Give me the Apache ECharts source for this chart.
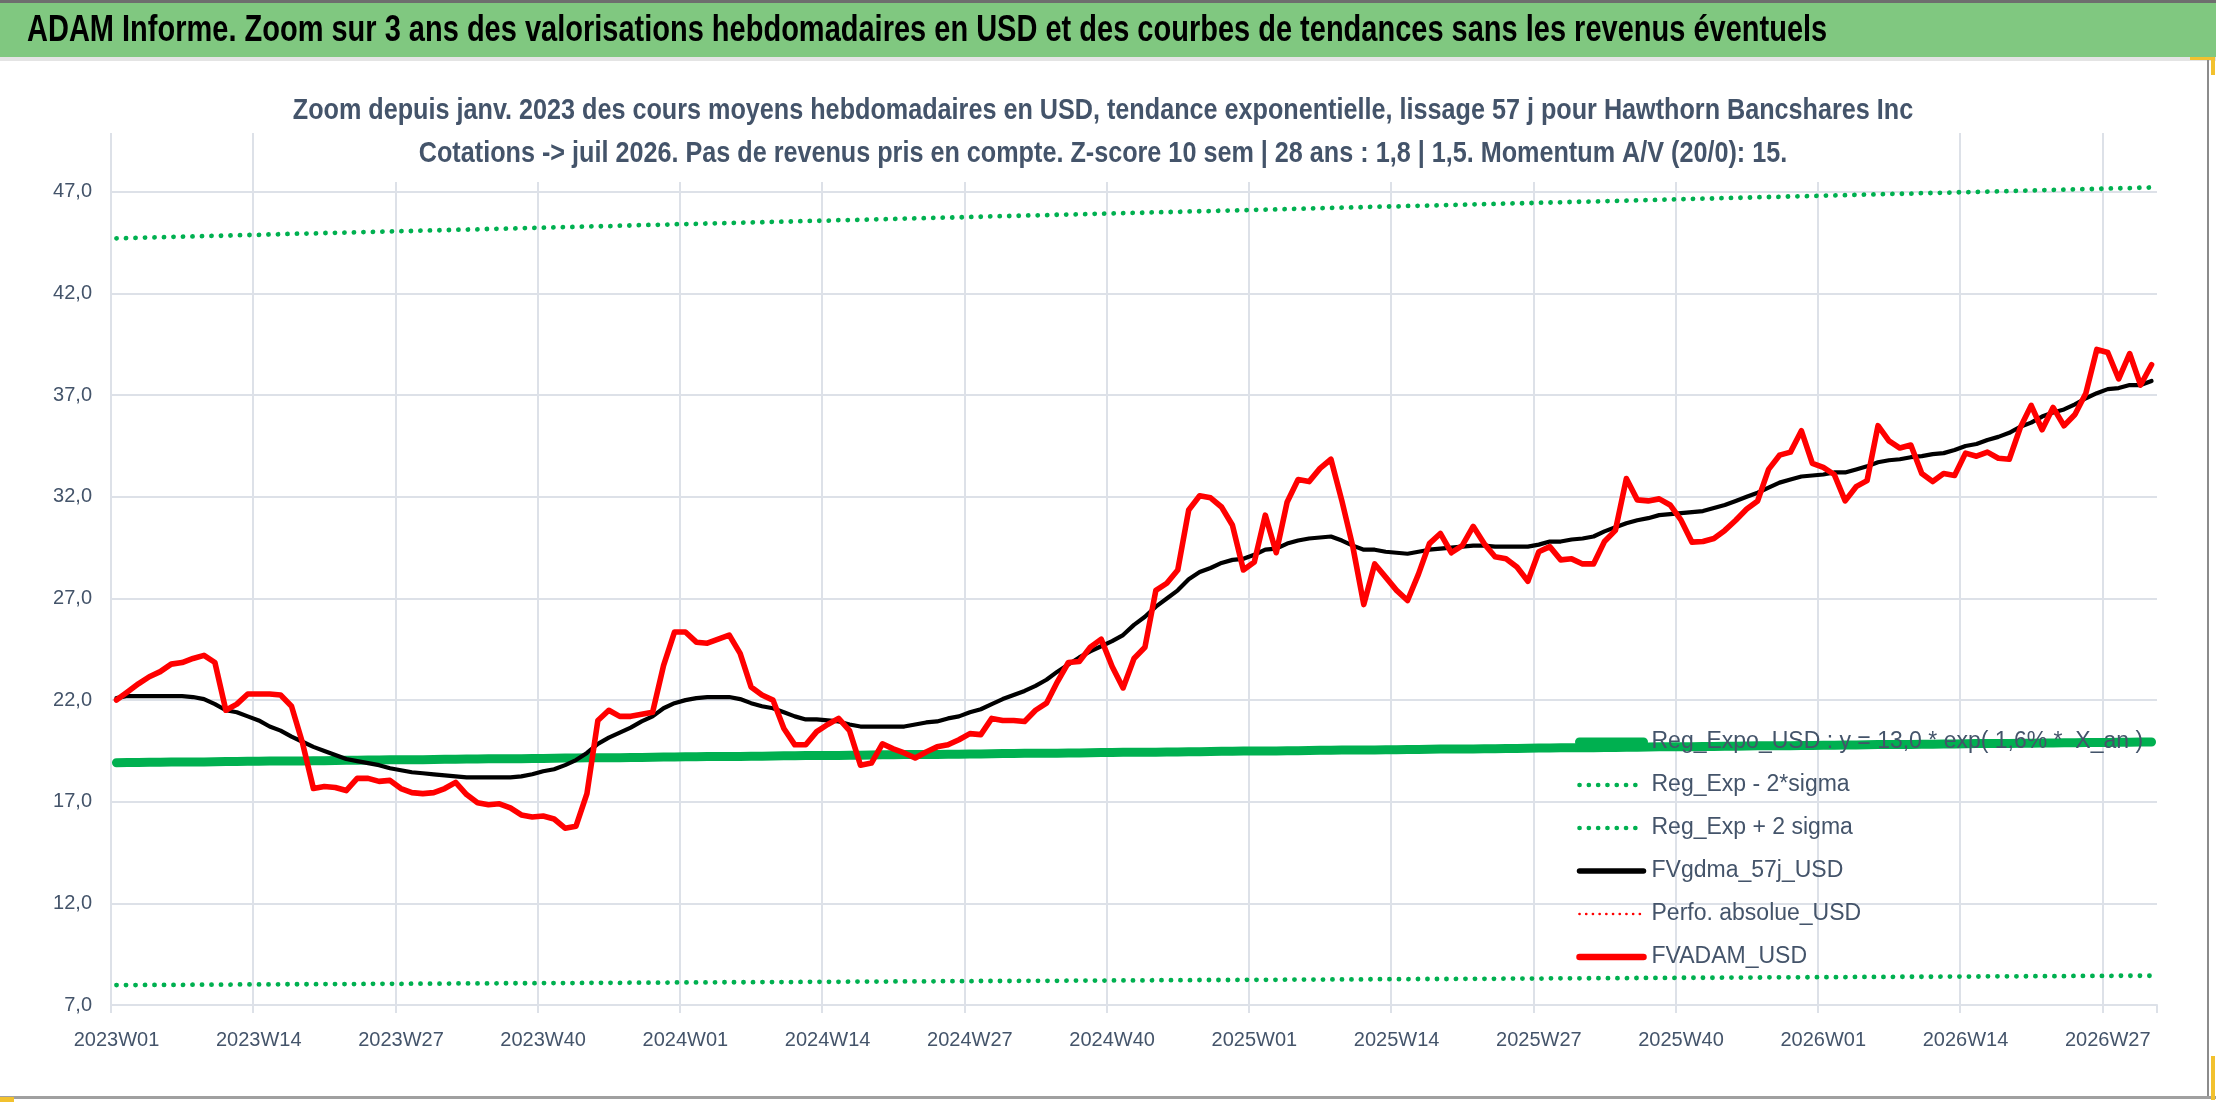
<!DOCTYPE html>
<html>
<head>
<meta charset="utf-8">
<script src="https://cdn.jsdelivr.net/npm/echarts@6/dist/echarts.min.js"></script>
<style>
html,body{margin:0;padding:0;background:#fff;}
#c{width:2216px;height:1102px;}
</style>
</head>
<body>
<div id="c"></div>
<script>
// ---- Data ----
const weekYears = [2023, 2024, 2025, 2026];
const weekCounts = [52, 52, 52, 31];
const categories = [];
weekYears.forEach(function (y, k) {
  for (let w = 1; w <= weekCounts[k]; w++) categories.push(y + 'W' + (w < 10 ? '0' + w : w));
});

const yTicks = [7, 12, 17, 22, 27, 32, 37, 42, 47];

const regExpo = [
18.92,18.93,18.93,18.94,18.94,18.95,18.95,18.96,18.96,18.97,
18.98,18.98,18.99,18.99,19.00,19.00,19.01,19.01,19.02,19.02,
19.03,19.04,19.04,19.05,19.05,19.06,19.06,19.07,19.07,19.08,
19.09,19.09,19.10,19.10,19.11,19.11,19.12,19.12,19.13,19.13,
19.14,19.15,19.15,19.16,19.16,19.17,19.17,19.18,19.18,19.19,
19.20,19.20,19.21,19.21,19.22,19.22,19.23,19.23,19.24,19.24,
19.25,19.26,19.26,19.27,19.27,19.28,19.28,19.29,19.29,19.30,
19.31,19.31,19.32,19.32,19.33,19.33,19.34,19.34,19.35,19.35,
19.36,19.37,19.37,19.38,19.38,19.39,19.39,19.40,19.40,19.41,
19.42,19.42,19.43,19.43,19.44,19.44,19.45,19.45,19.46,19.46,
19.47,19.48,19.48,19.49,19.49,19.50,19.50,19.51,19.51,19.52,
19.53,19.53,19.54,19.54,19.55,19.55,19.56,19.56,19.57,19.57,
19.58,19.59,19.59,19.60,19.60,19.61,19.61,19.62,19.62,19.63,
19.64,19.64,19.65,19.65,19.66,19.66,19.67,19.67,19.68,19.68,
19.69,19.70,19.70,19.71,19.71,19.72,19.72,19.73,19.73,19.74,
19.75,19.75,19.76,19.76,19.77,19.77,19.78,19.78,19.79,19.79,
19.80,19.81,19.81,19.82,19.82,19.83,19.83,19.84,19.84,19.85,
19.86,19.86,19.87,19.87,19.88,19.88,19.89,19.89,19.90,19.90,
19.91,19.92,19.92,19.93,19.93,19.94,19.94
];

const regMinus2Sigma = [
7.98,7.98,7.98,7.99,7.99,7.99,7.99,8.00,8.00,8.00,
8.00,8.01,8.01,8.01,8.01,8.02,8.02,8.02,8.02,8.03,
8.03,8.03,8.03,8.04,8.04,8.04,8.04,8.05,8.05,8.05,
8.05,8.06,8.06,8.06,8.06,8.07,8.07,8.07,8.07,8.08,
8.08,8.08,8.08,8.09,8.09,8.09,8.09,8.10,8.10,8.10,
8.10,8.11,8.11,8.11,8.11,8.12,8.12,8.12,8.12,8.13,
8.13,8.13,8.13,8.14,8.14,8.14,8.14,8.15,8.15,8.15,
8.15,8.16,8.16,8.16,8.16,8.17,8.17,8.17,8.17,8.18,
8.18,8.18,8.18,8.19,8.19,8.19,8.19,8.20,8.20,8.20,
8.20,8.21,8.21,8.21,8.21,8.22,8.22,8.22,8.22,8.23,
8.23,8.23,8.23,8.24,8.24,8.24,8.24,8.25,8.25,8.25,
8.25,8.26,8.26,8.26,8.26,8.27,8.27,8.27,8.27,8.28,
8.28,8.28,8.28,8.29,8.29,8.29,8.29,8.30,8.30,8.30,
8.30,8.31,8.31,8.31,8.31,8.32,8.32,8.32,8.32,8.33,
8.33,8.33,8.33,8.34,8.34,8.34,8.34,8.35,8.35,8.35,
8.35,8.36,8.36,8.36,8.36,8.37,8.37,8.37,8.37,8.38,
8.38,8.38,8.38,8.39,8.39,8.39,8.39,8.40,8.40,8.40,
8.40,8.41,8.41,8.41,8.41,8.42,8.42,8.42,8.42,8.43,
8.43,8.43,8.43,8.44,8.44,8.44,8.44
];

const regPlus2Sigma = [
44.72,44.73,44.75,44.76,44.77,44.79,44.80,44.81,44.83,44.84,
44.85,44.87,44.88,44.89,44.91,44.92,44.94,44.95,44.96,44.98,
44.99,45.00,45.02,45.03,45.04,45.06,45.07,45.08,45.10,45.11,
45.12,45.14,45.15,45.16,45.18,45.19,45.20,45.22,45.23,45.24,
45.26,45.27,45.28,45.30,45.31,45.32,45.34,45.35,45.37,45.38,
45.39,45.41,45.42,45.43,45.45,45.46,45.47,45.49,45.50,45.51,
45.53,45.54,45.55,45.57,45.58,45.59,45.61,45.62,45.63,45.65,
45.66,45.67,45.69,45.70,45.71,45.73,45.74,45.75,45.77,45.78,
45.80,45.81,45.82,45.84,45.85,45.86,45.88,45.89,45.90,45.92,
45.93,45.94,45.96,45.97,45.98,46.00,46.01,46.02,46.04,46.05,
46.06,46.08,46.09,46.10,46.12,46.13,46.14,46.16,46.17,46.18,
46.20,46.21,46.23,46.24,46.25,46.27,46.28,46.29,46.31,46.32,
46.33,46.35,46.36,46.37,46.39,46.40,46.41,46.43,46.44,46.45,
46.47,46.48,46.49,46.51,46.52,46.53,46.55,46.56,46.57,46.59,
46.60,46.61,46.63,46.64,46.66,46.67,46.68,46.70,46.71,46.72,
46.74,46.75,46.76,46.78,46.79,46.80,46.82,46.83,46.84,46.86,
46.87,46.88,46.90,46.91,46.92,46.94,46.95,46.96,46.98,46.99,
47.00,47.02,47.03,47.04,47.06,47.07,47.09,47.10,47.11,47.13,
47.14,47.15,47.17,47.18,47.19,47.21,47.22
];

const fvgdma57j = [
22.1,22.2,22.2,22.2,22.2,22.2,22.2,22.15,22.05,21.8,
21.5,21.4,21.2,21.0,20.7,20.5,20.2,19.95,19.7,19.5,
19.3,19.1,19.0,18.9,18.8,18.65,18.55,18.45,18.4,18.35,
18.3,18.25,18.2,18.2,18.2,18.2,18.2,18.25,18.35,18.5,
18.6,18.8,19.05,19.4,19.85,20.15,20.4,20.65,20.95,21.2,
21.6,21.85,22.0,22.1,22.15,22.15,22.15,22.05,21.85,21.7,
21.6,21.4,21.2,21.05,21.05,21.0,20.95,20.8,20.7,20.7,
20.7,20.7,20.7,20.8,20.9,20.95,21.1,21.2,21.4,21.55,
21.8,22.05,22.25,22.45,22.7,23.0,23.4,23.75,24.1,24.4,
24.65,24.9,25.2,25.7,26.1,26.6,27.0,27.4,27.95,28.3,
28.5,28.75,28.9,28.95,29.15,29.4,29.45,29.7,29.85,29.95,
30.0,30.05,29.85,29.6,29.4,29.4,29.3,29.25,29.2,29.3,
29.4,29.45,29.5,29.55,29.6,29.6,29.55,29.55,29.55,29.55,
29.65,29.8,29.8,29.9,29.95,30.05,30.3,30.5,30.7,30.85,
30.95,31.1,31.15,31.2,31.25,31.3,31.45,31.6,31.8,32.0,
32.2,32.45,32.7,32.85,33.0,33.05,33.1,33.2,33.2,33.35,
33.5,33.7,33.8,33.85,33.95,34.0,34.1,34.15,34.3,34.5,
34.6,34.8,34.95,35.15,35.45,35.65,35.95,36.15,36.3,36.55,
36.85,37.1,37.3,37.35,37.5,37.5,37.7
];

const fvadam = [
22.0,22.4,22.8,23.15,23.4,23.77,23.85,24.05,24.2,23.85,
21.5,21.8,22.3,22.3,22.3,22.25,21.7,19.9,17.65,17.75,
17.7,17.55,18.15,18.15,18.0,18.05,17.65,17.45,17.4,17.45,
17.65,17.95,17.35,16.95,16.85,16.9,16.7,16.35,16.25,16.3,
16.15,15.7,15.8,17.4,21.0,21.5,21.2,21.2,21.3,21.4,
23.7,25.35,25.35,24.85,24.8,25.0,25.2,24.3,22.65,22.25,
22.0,20.6,19.8,19.8,20.45,20.8,21.1,20.5,18.8,18.9,
19.85,19.6,19.4,19.15,19.45,19.7,19.8,20.05,20.35,20.3,
21.1,21.0,21.0,20.95,21.5,21.85,22.9,23.85,23.9,24.6,
25.0,23.65,22.6,24.05,24.6,27.4,27.75,28.4,31.35,32.05,
31.95,31.5,30.6,28.4,28.8,31.1,29.25,31.75,32.85,32.75,
33.4,33.85,31.8,29.55,26.7,28.7,28.05,27.4,26.9,28.2,
29.7,30.2,29.25,29.6,30.55,29.7,29.05,28.95,28.55,27.85,
29.3,29.55,28.9,28.95,28.7,28.7,29.8,30.35,32.9,31.85,
31.8,31.9,31.6,30.85,29.77,29.8,29.95,30.35,30.85,31.4,
31.8,33.35,34.05,34.2,35.25,33.65,33.45,33.1,31.8,32.5,
32.8,35.5,34.75,34.4,34.55,33.15,32.75,33.15,33.05,34.15,
34.0,34.2,33.9,33.85,35.4,36.5,35.3,36.4,35.5,36.05,
37.1,39.25,39.1,37.8,39.05,37.5,38.5
];

// Perfo. absolue_USD: no visible values in this zoom window
const perfoAbsolue = categories.map(function () { return null; });

const seriesNames = [
  'Reg_Expo_USD : y = 13,0 * exp( 1,6% *  X_an )',
  'Reg_Exp - 2*sigma',
  'Reg_Exp + 2 sigma',
  'FVgdma_57j_USD',
  'Perfo. absolue_USD',
  'FVADAM_USD'
];

const mainTitle = 'ADAM Informe. Zoom sur 3 ans des valorisations hebdomadaires en USD et des courbes de tendances sans les revenus éventuels';
const subTitleLines = [
  'Zoom depuis janv. 2023 des cours moyens hebdomadaires en USD, tendance exponentielle, lissage 57 j pour Hawthorn Bancshares Inc',
  'Cotations -> juil 2026. Pas de revenus pris en compte. Z-score 10 sem | 28 ans : 1,8 | 1,5. Momentum A/V (20/0): 15.'
];

// ---- Styles ----
const FONT = "'Liberation Sans', Arial, sans-serif";
const GRID_C = '#dde1e8';
const TXT_C = '#44546a';
const GREEN = '#00b050';
const ySplitColors = yTicks.map(function () { return GRID_C; }).concat(['rgba(0,0,0,0)']);
const xSplitColors = [];
for (let k = 0; k < 15; k++) xSplitColors.push(GRID_C);
xSplitColors.push('rgba(0,0,0,0)');

const lineStyles = [
  { color: GREEN, width: 9, cap: 'round', join: 'round' },
  { color: GREEN, width: 4.8, type: [0.1, 9.4], cap: 'round', join: 'round' },
  { color: GREEN, width: 4.8, type: [0.1, 9.4], cap: 'round', join: 'round' },
  { color: '#000000', width: 4.2, cap: 'round', join: 'round' },
  { color: '#ff0000', width: 2.6, type: [0.1, 6.6], cap: 'round', join: 'round' },
  { color: '#ff0000', width: 5.6, cap: 'round', join: 'round' }
];
const legendLineStyles = [
  { color: GREEN, width: 9, cap: 'round', type: 'solid' },
  { color: GREEN, width: 4.6, type: [0.1, 9.2], cap: 'round' },
  { color: GREEN, width: 4.6, type: [0.1, 9.2], cap: 'round' },
  { color: '#000000', width: 5.5, cap: 'round', type: 'solid' },
  { color: '#ff0000', width: 2.6, type: [0.1, 6.6], cap: 'round' },
  { color: '#ff0000', width: 6.5, cap: 'round', type: 'solid' }
];
const seriesData = [regExpo, regMinus2Sigma, regPlus2Sigma, fvgdma57j, perfoAbsolue, fvadam];
const seriesZ = [2, 2, 2, 3, 3, 4];

const chart = echarts.init(document.getElementById('c'), null, { renderer: 'canvas' });
chart.setOption({
  animation: false,
  backgroundColor: '#ffffff',
  graphic: [
    { type: 'rect', z: 0, shape: { x: 0, y: 0, width: 2216, height: 3 }, style: { fill: '#6e6e6e' } },
    { type: 'rect', z: 0, shape: { x: 0, y: 3, width: 2216, height: 54 }, style: { fill: '#80c880' } },
    { type: 'rect', z: 0, shape: { x: 0, y: 57, width: 2216, height: 4 }, style: { fill: '#e4e4e4' } },
    { type: 'rect', z: 0, shape: { x: 2207, y: 57, width: 2, height: 1042 }, style: { fill: '#8c8c8c' } },
    { type: 'rect', z: 0, shape: { x: 0, y: 1096, width: 2216, height: 3 }, style: { fill: '#a0a0a0' } },
    { type: 'rect', z: 0, shape: { x: 2190, y: 57, width: 24, height: 3 }, style: { fill: '#f2c12e' } },
    { type: 'rect', z: 0, shape: { x: 2211, y: 57, width: 4, height: 18 }, style: { fill: '#f2c12e' } },
    { type: 'rect', z: 0, shape: { x: 2211, y: 1056, width: 4, height: 44 }, style: { fill: '#f2c12e' } },
    { type: 'rect', z: 0, shape: { x: 0, y: 1097, width: 14, height: 5 }, style: { fill: '#f2c12e' } },
    // main title in the green band
    {
      type: 'text', z: 10, x: 27, y: 31, scaleY: 1.26,
      style: { text: mainTitle, fill: '#000000', font: 'bold 29px ' + FONT, textAlign: 'left', textVerticalAlign: 'middle', verticalAlign: 'middle' }
    },
    // white box behind the subtitle (hides gridlines like the original)
    { type: 'rect', z: 9, shape: { x: 275, y: 84, width: 1656, height: 98 }, style: { fill: '#ffffff' } },
    {
      type: 'text', z: 10, x: 1103, y: 111, scaleY: 1.2,
      style: { text: subTitleLines[0], fill: TXT_C, font: 'bold 25.2px ' + FONT, textAlign: 'center', textVerticalAlign: 'middle', verticalAlign: 'middle' }
    },
    {
      type: 'text', z: 10, x: 1103, y: 154, scaleY: 1.2,
      style: { text: subTitleLines[1], fill: TXT_C, font: 'bold 25.2px ' + FONT, textAlign: 'center', textVerticalAlign: 'middle', verticalAlign: 'middle' }
    }
  ],
  legend: {
    orient: 'vertical',
    left: 1575, top: 727,
    padding: 0,
    itemWidth: 64, itemHeight: 14, itemGap: 13,
    selectedMode: false,
    data: seriesNames.map(function (n, i) { return { name: n, lineStyle: legendLineStyles[i] }; }),
    itemStyle: { opacity: 0 },
    textStyle: { fontFamily: FONT, fontSize: 23, color: TXT_C, lineHeight: 30, padding: [0, 0, 0, 3] }
  },
  grid: { left: 111, right: 59, top: 133, bottom: 97, containLabel: false },
  xAxis: {
    type: 'category',
    data: categories,
    boundaryGap: true,
    axisLine: { show: true, lineStyle: { color: GRID_C, width: 2 } },
    axisTick: { show: true, interval: 12, length: 8, lineStyle: { color: GRID_C, width: 2 } },
    axisLabel: { interval: 12, margin: 25, fontFamily: FONT, fontSize: 20, color: TXT_C },
    splitLine: { show: true, interval: 12, lineStyle: { color: xSplitColors, width: 2 } }
  },
  yAxis: {
    type: 'value',
    min: 7, max: 49.9, interval: 5,
    axisLine: { show: false },
    axisTick: { show: false },
    axisLabel: {
      showMaxLabel: false, margin: 19, fontFamily: FONT, fontSize: 20, color: TXT_C,
      formatter: function (v) { return yTicks.indexOf(v) >= 0 ? v.toFixed(1).replace('.', ',') : ''; }
    },
    splitLine: { show: true, lineStyle: { color: ySplitColors, width: 2 } }
  },
  series: seriesNames.map(function (n, i) {
    return {
      name: n, type: 'line', data: seriesData[i], symbol: 'none', z: seriesZ[i],
      itemStyle: { color: lineStyles[i].color },
      lineStyle: lineStyles[i]
    };
  })
});
</script>
</body>
</html>
